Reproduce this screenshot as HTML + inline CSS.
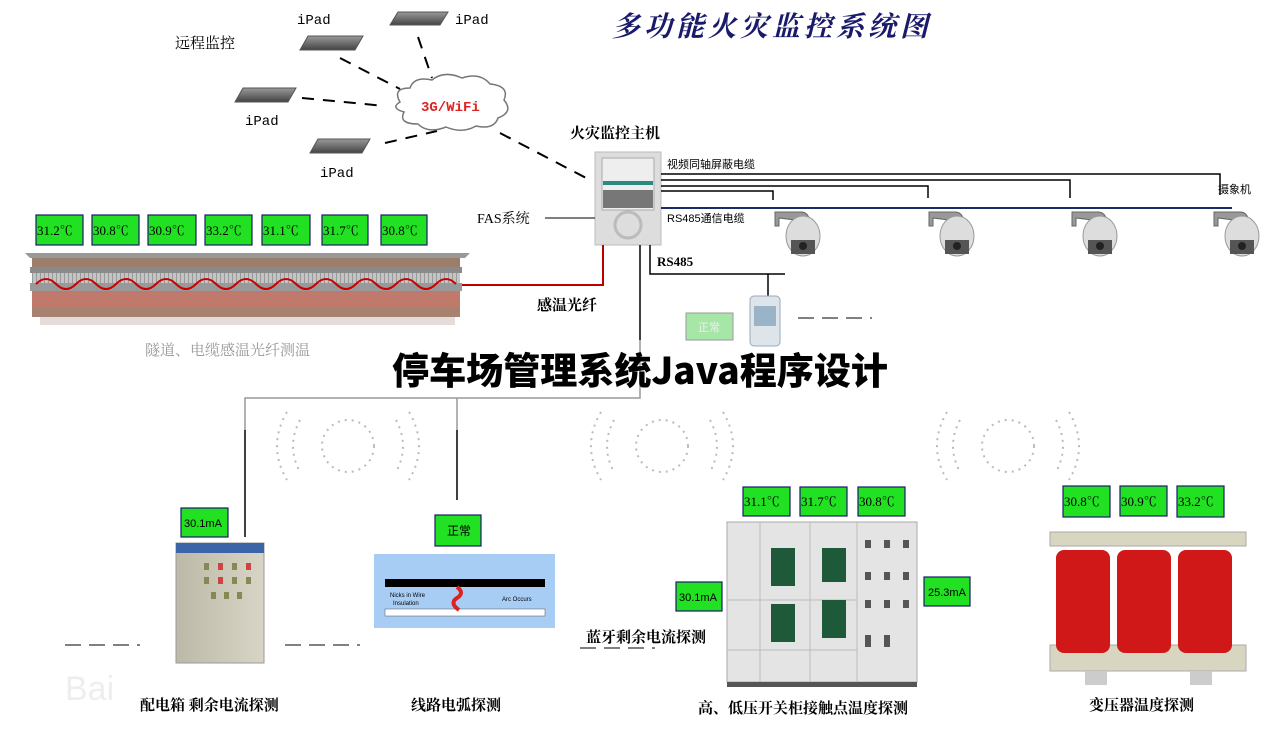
<!DOCTYPE html>
<html><head><meta charset="utf-8"><style>
html,body{margin:0;padding:0;background:#fff;}
body{width:1280px;height:741px;overflow:hidden;position:relative;}
svg{position:absolute;left:0;top:0;}
text{font-family:"Liberation Serif","Noto Serif CJK SC",serif;}
.s{font-family:"Liberation Sans","Noto Sans CJK SC",sans-serif;}
.m{font-family:"Liberation Mono","Noto Sans CJK SC",monospace;}
</style></head><body>
<svg width="1280" height="741" viewBox="0 0 1280 741" xmlns="http://www.w3.org/2000/svg">
<defs>
<linearGradient id="ipad" x1="0" y1="0" x2="0" y2="1"><stop offset="0" stop-color="#999"/><stop offset="1" stop-color="#444"/></linearGradient>
<linearGradient id="cab" x1="0" y1="0" x2="1" y2="0"><stop offset="0" stop-color="#bdb9a8"/><stop offset="1" stop-color="#d8d5c6"/></linearGradient>
<pattern id="rib" width="4" height="10" patternUnits="userSpaceOnUse"><rect width="4" height="10" fill="#c4c4c4"/><rect width="1" height="10" fill="#999"/></pattern>
<g id="cam"><path d="M-28,0 L-2,0 Q4,0 6,6 L8,10 L-24,6 L-24,14 L-28,14Z" fill="#999" stroke="#666" stroke-width="1"/><ellipse cx="0" cy="24" rx="17" ry="20" fill="#ddd" stroke="#999"/><rect x="-12" y="28" width="24" height="14" fill="#555"/><circle cx="0" cy="34" r="4" fill="#222"/></g>
</defs>

<text x="612" y="36" font-size="28" font-style="italic" font-weight="bold" fill="#1a1a6a" letter-spacing="4" style='font-family:"Noto Serif CJK SC",serif'>多功能火灾监控系统图</text>

<g fill="url(#ipad)" stroke="#555">
<polygon points="308,36 363,36 355,50 300,50"/>
<polygon points="398,12 448,12 440,25 390,25"/>
<polygon points="243,88 296,88 288,102 235,102"/>
<polygon points="318,139 370,139 362,153 310,153"/>
</g>
<text class="m" x="297" y="24" font-size="14">iPad</text>
<text class="m" x="455" y="24" font-size="14">iPad</text>
<text class="m" x="245" y="125" font-size="14">iPad</text>
<text class="m" x="320" y="177" font-size="14">iPad</text>
<text x="175" y="48" font-size="15">远程监控</text>

<g stroke="#000" stroke-width="2" stroke-dasharray="12,9" fill="none">
<line x1="340" y1="58" x2="400" y2="89"/>
<line x1="418" y1="37" x2="432" y2="78"/>
<line x1="302" y1="98" x2="385" y2="106"/>
<line x1="385" y1="143" x2="437" y2="131"/>
<line x1="500" y1="133" x2="590" y2="180"/>
</g>
<path d="M400,102 Q392,88 410,88 Q414,76 432,80 Q444,70 462,78 Q480,72 490,84 Q510,86 504,100 Q514,112 498,118 Q494,130 476,126 Q462,134 446,127 Q428,134 418,124 Q398,124 404,112 Q390,108 400,102Z" fill="#fff" stroke="#777" stroke-width="1.5"/>
<text class="m" x="421" y="111" font-size="14" fill="#d22" font-weight="bold">3G/WiFi</text>

<text x="570" y="138" font-size="15" font-weight="bold">火灾监控主机</text>
<rect x="595" y="152" width="66" height="93" fill="#ddd" stroke="#bbb"/>
<rect x="602" y="158" width="52" height="52" fill="#eee" stroke="#aaa"/>
<rect x="603" y="181" width="50" height="4" fill="#2a8a80"/>
<rect x="603" y="190" width="50" height="18" fill="#777"/>
<circle cx="628" cy="225" r="13" fill="none" stroke="#bbb" stroke-width="3"/>

<g stroke="#000" stroke-width="1.5" fill="none">
<polyline points="661,174 1220,174 1220,195"/>
<polyline points="661,180 1070,180 1070,198"/>
<polyline points="661,186 928,186 928,198"/>
<polyline points="661,191 773,191 773,200"/>
</g>
<line x1="661" y1="208" x2="1232" y2="208" stroke="#1a2a6a" stroke-width="2"/>
<text class="s" x="667" y="168" font-size="11">视频同轴屏蔽电缆</text>
<text class="s" x="667" y="222" font-size="11">RS485通信电缆</text>
<text class="s" x="1218" y="193" font-size="11">摄象机</text>
<use href="#cam" x="803" y="212"/>
<use href="#cam" x="957" y="212"/>
<use href="#cam" x="1100" y="212"/>
<use href="#cam" x="1242" y="212"/>

<text x="477" y="223" font-size="14">FAS系统</text>
<line x1="545" y1="218" x2="595" y2="218" stroke="#000"/>

<g stroke="#000" stroke-width="1.5" fill="none">
<polyline points="650,245 650,274 785,274"/>
<line x1="768" y1="274" x2="768" y2="296"/>
<line x1="640" y1="245" x2="640" y2="340"/>
</g>
<text x="657" y="266" font-size="13" font-weight="bold">RS485</text>
<rect x="750" y="296" width="30" height="50" rx="4" fill="#dde4ea" stroke="#9ab"/>
<rect x="754" y="306" width="22" height="20" fill="#9bb3c6"/>
<rect x="686" y="313" width="47" height="27" fill="#a6e6a6" stroke="#999"/>
<text class="s" x="698" y="331" font-size="11" fill="#eee">正常</text>
<line x1="798" y1="318" x2="872" y2="318" stroke="#000" stroke-dasharray="16,8"/>

<polyline points="603,245 603,285 450,285" fill="none" stroke="#b00" stroke-width="2"/>
<text x="537" y="310" font-size="15" font-weight="bold">感温光纤</text>

<!-- tunnel -->
<path d="M25,253 L470,253 L465,258 L30,258Z" fill="#999"/>
<rect x="32" y="258" width="428" height="10" fill="#9b7e6a"/>
<rect x="30" y="267" width="432" height="6" fill="#8a8a8a"/>
<rect x="32" y="273" width="428" height="10" fill="url(#rib)"/>
<rect x="30" y="283" width="432" height="8" fill="#999"/>
<rect x="32" y="291" width="428" height="16" fill="#c07a6c"/>
<rect x="32" y="307" width="428" height="10" fill="#a88270"/>
<rect x="40" y="317" width="415" height="8" fill="#e4dcd8"/>
<path d="M36,284 q10,-10 20,0 t20,0 t20,0 t20,0 t20,0 t20,0 t20,0 t20,0 t20,0 t20,0 t20,0 t20,0 t20,0 t20,0 t20,0 t20,0 t20,0 t20,0 t20,0 t20,0 t20,0" fill="none" stroke="#c00" stroke-width="2"/>
<g fill="#22e022" stroke="#1a1a70" stroke-width="1.2">
<rect x="36" y="215" width="47" height="30"/><rect x="92" y="215" width="47" height="30"/><rect x="148" y="215" width="48" height="30"/><rect x="205" y="215" width="47" height="30"/><rect x="262" y="215" width="48" height="30"/><rect x="322" y="215" width="46" height="30"/><rect x="381" y="215" width="46" height="30"/>
</g>
<g class="m" font-size="13" fill="#000">
<text x="37" y="235">31.2℃</text><text x="93" y="235">30.8℃</text><text x="149" y="235">30.9℃</text><text x="206" y="235">33.2℃</text><text x="263" y="235">31.1℃</text><text x="323" y="235">31.7℃</text><text x="382" y="235">30.8℃</text>
</g>
<text x="145" y="355" font-size="15" fill="#999">隧道、电缆感温光纤测温</text>

<g fill="none" stroke-width="1.5">
<polyline points="640,340 640,398 245,398 245,430" stroke="#999"/>
<line x1="245" y1="430" x2="245" y2="537" stroke="#000"/>
<line x1="457" y1="398" x2="457" y2="430" stroke="#999"/>
<line x1="457" y1="430" x2="457" y2="500" stroke="#000"/>
</g>

<g fill="none" stroke="#bbb" stroke-width="2" stroke-dasharray="2,5">
<circle cx="348" cy="446" r="26"/><path d="M300,420 q-14,26 0,52 M396,420 q14,26 0,52 M287,412 q-20,34 0,68 M409,412 q20,34 0,68"/>
<circle cx="662" cy="446" r="26"/><path d="M614,420 q-14,26 0,52 M710,420 q14,26 0,52 M601,412 q-20,34 0,68 M723,412 q20,34 0,68"/>
<circle cx="1008" cy="446" r="26"/><path d="M960,420 q-14,26 0,52 M1056,420 q14,26 0,52 M947,412 q-20,34 0,68 M1069,412 q20,34 0,68"/>
</g>

<text x="392" y="384" font-size="37" font-weight="900" textLength="496" lengthAdjust="spacingAndGlyphs" style='font-family:"Noto Sans CJK SC",sans-serif'>停车场管理系统Java程序设计</text>

<rect x="176" y="543" width="88" height="120" fill="url(#cab)" stroke="#999"/>
<rect x="176" y="543" width="88" height="10" fill="#3c64a8"/>
<g fill="#885">
<rect x="204" y="563" width="5" height="7"/><rect x="218" y="563" width="5" height="7" fill="#c44"/><rect x="232" y="563" width="5" height="7"/><rect x="246" y="563" width="5" height="7" fill="#c44"/>
<rect x="204" y="577" width="5" height="7"/><rect x="218" y="577" width="5" height="7" fill="#c44"/><rect x="232" y="577" width="5" height="7"/><rect x="246" y="577" width="5" height="7"/>
<rect x="211" y="592" width="5" height="7"/><rect x="224" y="592" width="5" height="7"/><rect x="237" y="592" width="5" height="7"/>
</g>
<rect x="181" y="508" width="47" height="29" fill="#22e022" stroke="#1a1a70" stroke-width="1.2"/>
<text class="s" x="184" y="527" font-size="11">30.1mA</text>
<line x1="65" y1="645" x2="140" y2="645" stroke="#000" stroke-dasharray="16,8"/>
<line x1="285" y1="645" x2="360" y2="645" stroke="#000" stroke-dasharray="16,8"/>
<line x1="580" y1="648" x2="655" y2="648" stroke="#000" stroke-dasharray="16,8"/>
<text x="65" y="700" font-size="34" fill="#eee" class="s">Bai</text>

<rect x="374" y="554" width="181" height="74" fill="#a8cdf5"/>
<rect x="385" y="579" width="160" height="8" fill="#000"/>
<rect x="385" y="609" width="160" height="7" fill="#fff" stroke="#555" stroke-width="0.5"/>
<path d="M457,587 q8,6 0,11 t2,12" fill="none" stroke="#d22" stroke-width="4"/>
<text class="s" x="390" y="597" font-size="6">Nicks in Wire</text>
<text class="s" x="393" y="605" font-size="6">Insulation</text>
<text class="s" x="502" y="601" font-size="6">Arc Occurs</text>
<rect x="435" y="515" width="46" height="31" fill="#22e022" stroke="#1a1a70" stroke-width="1.2"/>
<text class="s" x="447" y="535" font-size="12">正常</text>

<rect x="727" y="522" width="190" height="160" fill="#e4e4e4" stroke="#aaa"/>
<g stroke="#bbb" fill="none"><line x1="760" y1="522" x2="760" y2="682"/><line x1="810" y1="522" x2="810" y2="682"/><line x1="857" y1="522" x2="857" y2="682"/><line x1="727" y1="600" x2="857" y2="600"/><line x1="727" y1="650" x2="857" y2="650"/></g>
<g fill="#1e5a3a"><rect x="771" y="548" width="24" height="38"/><rect x="822" y="548" width="24" height="34"/><rect x="771" y="604" width="24" height="38"/><rect x="822" y="600" width="24" height="38"/></g>
<g fill="#555"><rect x="865" y="540" width="6" height="8"/><rect x="884" y="540" width="6" height="8"/><rect x="903" y="540" width="6" height="8"/><rect x="865" y="572" width="6" height="8"/><rect x="884" y="572" width="6" height="8"/><rect x="903" y="572" width="6" height="8"/><rect x="865" y="600" width="6" height="8"/><rect x="884" y="600" width="6" height="8"/><rect x="903" y="600" width="6" height="8"/><rect x="865" y="635" width="6" height="12"/><rect x="884" y="635" width="6" height="12"/></g>
<rect x="727" y="682" width="190" height="5" fill="#555"/>
<g fill="#22e022" stroke="#1a1a70" stroke-width="1.2">
<rect x="743" y="487" width="47" height="29"/><rect x="800" y="487" width="47" height="29"/><rect x="858" y="487" width="47" height="29"/>
<rect x="676" y="582" width="46" height="29"/><rect x="924" y="577" width="46" height="29"/>
<rect x="1063" y="486" width="47" height="31"/><rect x="1120" y="486" width="47" height="30"/><rect x="1177" y="486" width="47" height="31"/>
</g>
<g class="m" font-size="13">
<text x="744" y="506">31.1℃</text><text x="801" y="506">31.7℃</text><text x="859" y="506">30.8℃</text>
<text x="1064" y="506">30.8℃</text><text x="1121" y="506">30.9℃</text><text x="1178" y="506">33.2℃</text>
</g>
<text class="s" x="679" y="601" font-size="11">30.1mA</text>
<text class="s" x="928" y="596" font-size="11">25.3mA</text>

<rect x="1050" y="532" width="196" height="14" fill="#d8d6c0" stroke="#aaa"/>
<rect x="1050" y="645" width="196" height="26" fill="#d8d6c0" stroke="#aaa"/>
<rect x="1056" y="550" width="54" height="103" rx="8" fill="#d01818"/>
<rect x="1117" y="550" width="54" height="103" rx="8" fill="#d01818"/>
<rect x="1178" y="550" width="54" height="103" rx="8" fill="#d01818"/>
<rect x="1085" y="671" width="22" height="14" fill="#ccc"/><rect x="1190" y="671" width="22" height="14" fill="#ccc"/>

<g font-size="15" font-weight="bold">
<text x="140" y="710">配电箱 剩余电流探测</text>
<text x="411" y="710">线路电弧探测</text>
<text x="586" y="642">蓝牙剩余电流探测</text>
<text x="698" y="713">高、低压开关柜接触点温度探测</text>
<text x="1089" y="710">变压器温度探测</text>
</g>
</svg>
</body></html>
